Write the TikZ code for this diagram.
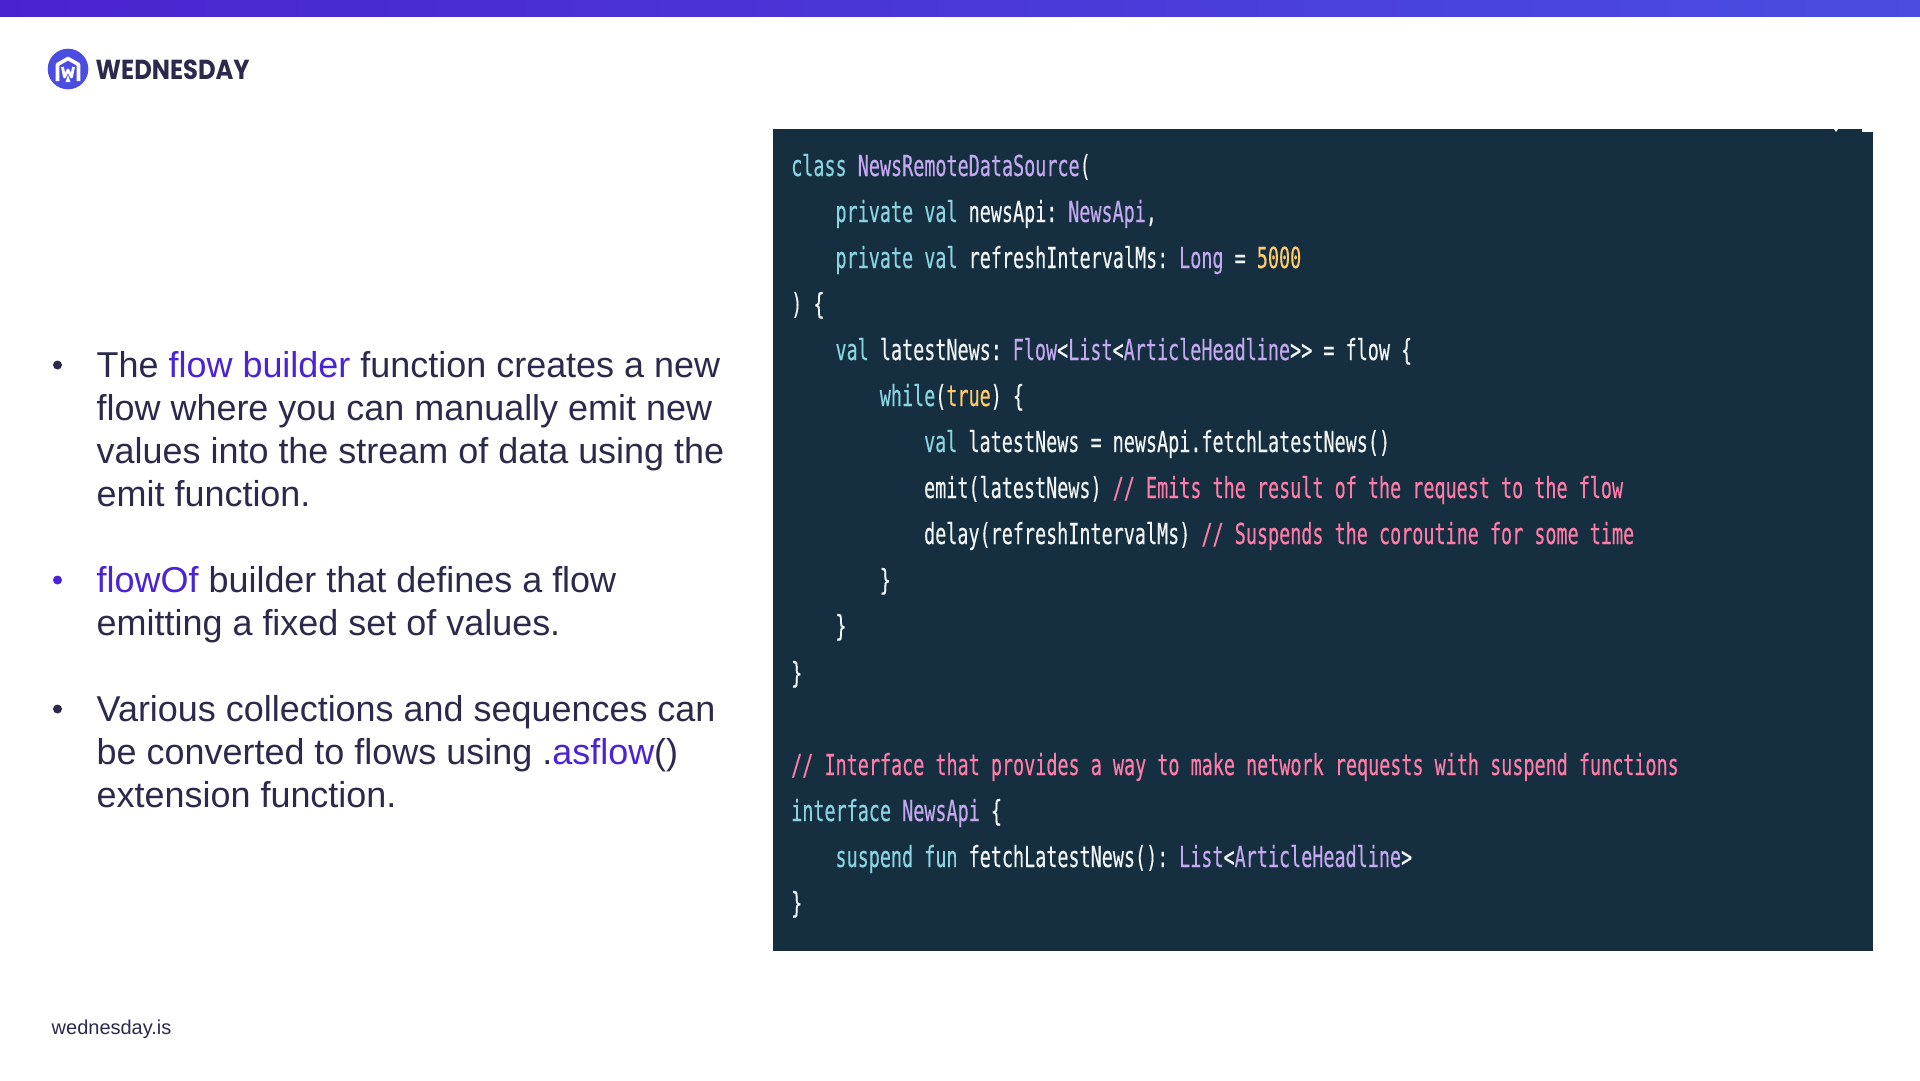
\documentclass[tikz,border=0pt]{standalone}
\usepackage{fontspec}
\setmainfont{Liberation Sans}
\newfontfamily\codefont[FakeStretch=0.6355,FakeBold=0.35]{DejaVu Sans Mono}
\newfontfamily\logofont[FakeStretch=0.88]{Poppins}
\definecolor{ink}{HTML}{2B2A4C}
\definecolor{accent}{HTML}{4A22D8}
\definecolor{barL}{HTML}{4A23D0}
\definecolor{barR}{HTML}{4A4DE0}
\definecolor{logoblue}{HTML}{4A4DE0}
\definecolor{panel}{HTML}{152F40}
\definecolor{ckw}{HTML}{8AD3E0}
\definecolor{cty}{HTML}{C4A8F0}
\definecolor{cpl}{HTML}{F0F4F4}
\definecolor{cnum}{HTML}{FFCB6B}
\definecolor{ccm}{HTML}{FF7CA8}
\newcommand{\kw}[1]{\textcolor{ckw}{#1}}
\newcommand{\ty}[1]{\textcolor{cty}{#1}}
\newcommand{\nm}[1]{\textcolor{cnum}{#1}}
\newcommand{\cm}[1]{\textcolor{ccm}{#1}}
\newcommand{\ac}[1]{\textcolor{accent}{#1}}
\newcommand{\cb}{\kern-4pt\relax}
\tikzset{
  body/.style={anchor=base west,inner sep=0pt,text=ink,font=\fontsize{35.95}{36}\selectfont},
  dot/.style={circle,fill=#1,inner sep=0pt,minimum size=9pt},
  code/.style={anchor=base west,inner sep=0pt,text=cpl,font=\codefont\fontsize{29}{29}\selectfont},
}
\begin{document}
\begin{tikzpicture}[x=1pt,y=-1pt]
\useasboundingbox (0,0) rectangle (1920,1080);
\fill[white] (0,0) rectangle (1920,1080);
\shade[left color=barL,right color=barR] (0,0) rectangle (1920,16);
% logo
\fill[logoblue] (68,69) circle (20.3);
\draw[white,line width=3.6pt,line join=round] (57.5,81) -- (57.5,64.5) -- (68,58.5) -- (78.5,64.5) -- (78.5,81);
\draw[white,line width=2.8pt,line join=round] (62.5,67) -- (64.5,77) -- (68,70) -- (71.5,77) -- (73.5,67);
\fill[white] (68,75) -- (70.5,82) -- (65.5,82) -- cycle;
\node[anchor=base west,inner sep=0pt,text=ink,font=\logofont\bfseries\fontsize{27.5}{27.5}\selectfont] (logo) at (95.5,79) {WEDNESDAY};
% left text
\node[dot=ink] (b1) at (57.5,365) {};
\node[body] (t1) at (96.5,377) {The \ac{flow builder} function creates a new};
\node[body] (t2) at (96.5,420) {flow where you can manually emit new};
\node[body] (t3) at (96.5,463) {values into the stream of data using the};
\node[body] (t4) at (96.5,506) {emit function.};
\node[dot=accent] (b2) at (57.5,580) {};
\node[body] (t5) at (96.5,592) {\ac{flowOf} builder that defines a flow};
\node[body] (t6) at (96.5,635) {emitting a fixed set of values.};
\node[dot=ink] (b3) at (57.5,709) {};
\node[body] (t7) at (96.5,721) {Various collections and sequences can};
\node[body] (t8) at (96.5,764) {be converted to flows using .\ac{asflow}()};
\node[body] (t9) at (96.5,807) {extension function.};
\node[anchor=base west,inner sep=0pt,text=ink,font=\fontsize{20}{20}\selectfont] (foot) at (51.5,1034) {wednesday.is};
% code panel
\fill[panel] (773,129) rectangle (1873,951);
\fill[white] (1834,129) -- (1838,129) -- (1836,132) -- cycle;
\fill[white] (1862,129) rectangle (1873,131.5);
\node[code] (c1) at (791,176) {\kw{class} \ty{NewsRemoteDataSource}(};
\node[code] (c2) at (835.3,222) {\kw{private val} newsApi: \cb\ty{NewsApi},};
\node[code] (c3) at (835.3,268) {\kw{private val} refreshIntervalMs: \cb\ty{Long} = \nm{5000}};
\node[code] (c4) at (791,314) {) \{};
\node[code] (c5) at (835.3,360) {\kw{val} latestNews: \cb\ty{Flow}<\ty{List}<\ty{ArticleHeadline}>{}> = flow \{};
\node[code] (c6) at (879.6,406) {\kw{while}(\nm{true}) \{};
\node[code] (c7) at (923.9,452) {\kw{val} latestNews = newsApi.fetchLatestNews()};
\node[code] (c8) at (923.9,498) {emit(latestNews) \cm{// Emits the result of the request to the flow}};
\node[code] (c9) at (923.9,544) {delay(refreshIntervalMs) \cm{// Suspends the coroutine for some time}};
\node[code] (c10) at (879.6,590) {\}};
\node[code] (c11) at (835.3,636) {\}};
\node[code] (c12) at (791,683) {\}};
\node[code] (c13) at (791,775) {\cm{// Interface that provides a way to make network requests with suspend functions}};
\node[code] (c14) at (791,821) {\kw{interface} \ty{NewsApi} \{};
\node[code] (c15) at (835.3,867) {\kw{suspend fun} fetchLatestNews(): \cb\ty{List}<\ty{ArticleHeadline}>};
\node[code] (c16) at (791,913) {\}};
\end{tikzpicture}
\end{document}
